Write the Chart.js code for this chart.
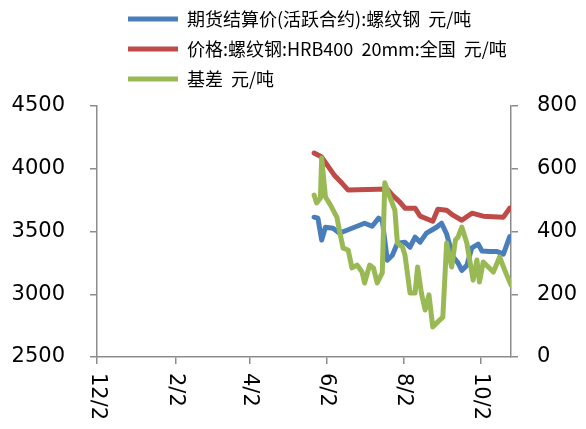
<!DOCTYPE html>
<html>
<head>
<meta charset="utf-8">
<script src="https://cdn.jsdelivr.net/npm/chart.js@4"></script>
<style>
  body { margin: 0; background: #fff; }
  #wrap { width: 586px; height: 429px; }
</style>
</head>
<body>
<div id="wrap"><canvas id="basisChart"></canvas></div>
<script>
// x values are days counted from 12/2
const tickDays = [0, 62, 121, 182, 243, 304];
const tickLabels = ["12/2", "2/2", "4/2", "6/2", "8/2", "10/2"];

const futuresDays = [172, 175, 178, 181, 187, 192, 198, 206, 212, 218, 223, 226, 230, 234, 238, 244, 248, 252, 256, 261, 265, 269, 273, 277, 282, 286, 289, 293, 297, 302, 305, 311, 317, 322, 327];
const futuresValues = [3614, 3606, 3431, 3534, 3526, 3487, 3510, 3542, 3566, 3542, 3606, 3590, 3271, 3311, 3407, 3415, 3375, 3455, 3415, 3487, 3510, 3534, 3566, 3480, 3300, 3250, 3190, 3230, 3370, 3400, 3345, 3340, 3340, 3320, 3460];

const spotDays = [172, 178, 183, 188, 194, 199, 230, 234, 240, 244, 252, 256, 266, 270, 277, 282, 289, 297, 306, 322, 327];
const spotValues = [4125, 4093, 4021, 3949, 3886, 3830, 3838, 3790, 3734, 3686, 3686, 3622, 3582, 3678, 3670, 3630, 3590, 3646, 3622, 3614, 3686];

const basisDays = [172, 174, 177, 178, 181, 185, 190, 192, 195, 199, 202, 206, 210, 212, 216, 219, 222, 226, 228, 232, 236, 238, 242, 244, 248, 252, 254, 257, 260, 263, 266, 270, 274, 277, 281, 284, 286, 289, 293, 298, 301, 303, 306, 314, 319, 323, 328];
const basisValues = [516, 491, 507, 634, 510, 484, 446, 405, 347, 341, 284, 293, 271, 236, 293, 284, 236, 268, 555, 510, 468, 363, 351, 325, 204, 204, 287, 204, 150, 198, 96, 112, 127, 363, 287, 373, 382, 414, 363, 245, 309, 239, 303, 271, 319, 277, 229];

const axisColor = "#8c8c8c";
const tickFont = { family: '"DejaVu Sans"', size: 21 };

function toPoints(days, values) {
    return days.map((d, i) => ({ x: d, y: values[i] }));
}

function lineSet(label, days, values, color, axis, order) {
    return {
        label: label,
        data: toPoints(days, values),
        yAxisID: axis,
        borderColor: color,
        backgroundColor: color,
        borderWidth: 5,
        borderCapStyle: "round",
        borderJoinStyle: "round",
        pointRadius: 0,
        tension: 0,
        order: order
    };
}

// x labels read top-to-bottom, which chart.js can't rotate to, so draw them here
const sideLabels = {
    id: "sideLabels",
    afterLayout(chart) {
        // legend sits a bit right of the plot edge and hugs the top
        const lg = chart.legend;
        lg.left += 19;
        lg.right += 19;
        lg.top -= 8;
        lg.bottom -= 8;
    },
    afterDraw(chart) {
        const ctx = chart.ctx;
        const x = chart.scales.x;
        ctx.save();
        ctx.fillStyle = "#000";
        ctx.font = tickFont.size + "px " + tickFont.family;
        ctx.textAlign = "left";
        ctx.textBaseline = "middle";
        tickDays.forEach((d, i) => {
            ctx.save();
            ctx.translate(x.getPixelForValue(d), x.top + 16);
            ctx.rotate(Math.PI / 2);
            ctx.fillText(tickLabels[i], 0, 0);
            ctx.restore();
        });
        ctx.restore();
    }
};

new Chart(document.getElementById("basisChart"), {
    type: "line",
    data: {
        datasets: [
            lineSet("期货结算价(活跃合约):螺纹钢  元/吨", futuresDays, futuresValues, "#4a7ebb", "yLeft", 3),
            lineSet("价格:螺纹钢:HRB400  20mm:全国  元/吨", spotDays, spotValues, "#be4b48", "yLeft", 2),
            lineSet("基差  元/吨", basisDays, basisValues, "#98b954", "yRight", 1)
        ]
    },
    options: {
        responsive: true,
        maintainAspectRatio: false,
        animation: false,
        layout: { padding: 0 },
        plugins: {
            tooltip: { enabled: false },
            legend: {
                position: "top",
                align: "start",
                fullSize: false,
                labels: {
                    usePointStyle: true,
                    pointStyle: "line",
                    pointStyleWidth: 50,
                    padding: 12,
                    color: "#000",
                    font: { family: '"Liberation Sans Narrow", "Noto Sans CJK SC"', size: 18 },
                    sort: (a, b) => a.datasetIndex - b.datasetIndex
                }
            }
        },
        scales: {
            x: {
                type: "linear",
                min: 0,
                max: 328,
                afterBuildTicks: s => { s.ticks = tickDays.map(v => ({ value: v })); },
                afterFit: s => { s.height = 72; },
                ticks: { display: false },
                grid: { drawOnChartArea: false, tickLength: 7, color: axisColor, lineWidth: 1.5 },
                border: { color: axisColor, width: 1.5 }
            },
            yLeft: {
                position: "left",
                min: 2500,
                max: 4500,
                afterFit: s => { s.width = 97; s.paddingTop = 106; },
                ticks: { stepSize: 500, padding: 25, color: "#000", font: tickFont, callback: v => String(v) },
                grid: { drawOnChartArea: false, tickLength: 7, color: axisColor, lineWidth: 1.5 },
                border: { color: axisColor, width: 1.5 }
            },
            yRight: {
                position: "right",
                min: 0,
                max: 800,
                afterFit: s => { s.width = 75; s.paddingTop = 106; },
                ticks: { stepSize: 200, padding: 19, color: "#000", font: tickFont, callback: v => String(v) },
                grid: { drawOnChartArea: false, tickLength: 7, color: axisColor, lineWidth: 1.5 },
                border: { color: axisColor, width: 1.5 }
            }
        }
    },
    plugins: [sideLabels]
});
</script>
</body>
</html>
